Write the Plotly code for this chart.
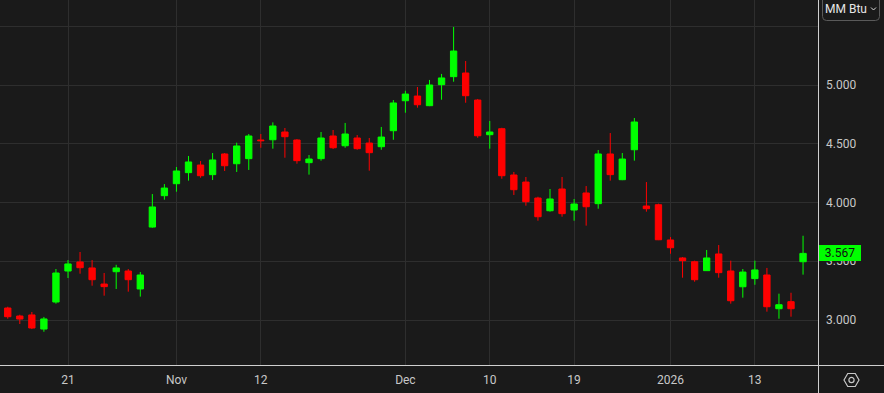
import plotly.graph_objects as go

# ---- data ----
dates = [
    "2025-10-14", "2025-10-15", "2025-10-16", "2025-10-17",
    "2025-10-20", "2025-10-21", "2025-10-22", "2025-10-23", "2025-10-24",
    "2025-10-27", "2025-10-28", "2025-10-29", "2025-10-30", "2025-10-31",
    "2025-11-03", "2025-11-04", "2025-11-05", "2025-11-06", "2025-11-07",
    "2025-11-10", "2025-11-11", "2025-11-12", "2025-11-13", "2025-11-14",
    "2025-11-17", "2025-11-18", "2025-11-19", "2025-11-20", "2025-11-21",
    "2025-11-24", "2025-11-25", "2025-11-26", "2025-11-28",
    "2025-12-01", "2025-12-02", "2025-12-03", "2025-12-04", "2025-12-05",
    "2025-12-08", "2025-12-09", "2025-12-10", "2025-12-11", "2025-12-12",
    "2025-12-15", "2025-12-16", "2025-12-17", "2025-12-18", "2025-12-19",
    "2025-12-22", "2025-12-23", "2025-12-24", "2025-12-26",
    "2025-12-29", "2025-12-30", "2025-12-31",
    "2026-01-02",
    "2026-01-05", "2026-01-06", "2026-01-07", "2026-01-08", "2026-01-09",
    "2026-01-12", "2026-01-13", "2026-01-14", "2026-01-15", "2026-01-16",
    "2026-01-20",
]

opens = [3.102, 3.034, 3.043, 2.923, 3.153, 3.417, 3.494, 3.443, 3.306, 3.411,
         3.417, 3.264, 3.791, 4.058, 4.160, 4.254, 4.319, 4.237, 4.413, 4.330,
         4.373, 4.532, 4.534, 4.600, 4.532, 4.339, 4.373, 4.566, 4.483, 4.549,
         4.506, 4.475, 4.611, 4.866, 4.906, 4.824, 5.003, 5.071, 5.102, 4.872,
         4.577, 4.628, 4.234, 4.174, 4.038, 3.930, 4.115, 3.936, 4.081, 3.990,
         4.413, 4.194, 4.449, 3.970, 3.981, 3.681, 3.528, 3.496, 3.420, 3.562,
         3.417, 3.283, 3.352, 3.383, 3.096, 3.156, 3.496]
highs = [3.113, 3.045, 3.068, 3.026, 3.434, 3.510, 3.579, 3.510, 3.400, 3.470,
         3.434, 3.408, 4.072, 4.157, 4.302, 4.396, 4.353, 4.421, 4.421, 4.509,
         4.583, 4.583, 4.682, 4.634, 4.540, 4.404, 4.600, 4.617, 4.677, 4.574,
         4.549, 4.643, 4.872, 4.951, 4.983, 5.043, 5.094, 5.494, 5.204, 4.881,
         4.694, 4.636, 4.260, 4.217, 4.049, 4.115, 4.217, 4.030, 4.140, 4.447,
         4.591, 4.421, 4.719, 4.174, 3.990, 3.706, 3.536, 3.505, 3.596, 3.638,
         3.505, 3.434, 3.505, 3.443, 3.224, 3.232, 3.717]
lows = [3.011, 2.966, 2.923, 2.900, 3.139, 3.357, 3.394, 3.292, 3.207, 3.264,
        3.241, 3.199, 3.785, 4.024, 4.092, 4.186, 4.211, 4.191, 4.268, 4.260,
        4.277, 4.466, 4.458, 4.381, 4.330, 4.237, 4.356, 4.455, 4.466, 4.449,
        4.271, 4.449, 4.534, 4.764, 4.807, 4.820, 4.875, 5.028, 4.849, 4.551,
        4.458, 4.202, 4.064, 3.973, 3.845, 3.922, 3.879, 3.845, 3.803, 3.947,
        4.186, 4.190, 4.356, 3.922, 3.680, 3.564, 3.360, 3.326, 3.418, 3.360,
        3.139, 3.190, 3.300, 3.071, 3.011, 3.028, 3.386]
closes = [3.028, 3.008, 2.932, 3.009, 3.400, 3.477, 3.445, 3.343, 3.284, 3.443,
          3.343, 3.383, 3.962, 4.123, 4.268, 4.345, 4.228, 4.362, 4.313, 4.481,
          4.566, 4.526, 4.651, 4.560, 4.356, 4.370, 4.549, 4.466, 4.583, 4.458,
          4.424, 4.557, 4.847, 4.923, 4.832, 5.000, 5.060, 5.289, 4.909, 4.568,
          4.600, 4.228, 4.109, 4.007, 3.879, 4.030, 3.905, 3.987, 3.964, 4.413,
          4.237, 4.370, 4.685, 3.947, 3.683, 3.615, 3.505, 3.343, 3.528, 3.403,
          3.164, 3.408, 3.426, 3.113, 3.130, 3.096, 3.567]

x_tick_dates = ["2025-10-21", "2025-11-03", "2025-11-12", "2025-12-01",
                "2025-12-10", "2025-12-19", "2026-01-02", "2026-01-13"]
x_tick_labels = ["21", "Nov", "12", "Dec", "10", "19", "2026", "13"]

y_tick_vals = [3.0, 3.5, 4.0, 4.5, 5.0, 5.5]
y_tick_labels = ["3.000", "3.500", "4.000", "4.500", "5.000", ""]

last_price = 3.567
unit_label = "MM Btu"

# ---- style ----
W, H = 884, 393
ML, MR, MT, MB = 0, 66, 0, 28
PW, PH = W - ML - MR, H - MT - MB
BG = "#1a1a1a"
GRID = "#2e2e2e"
AXIS = "#cfcfcf"
TXT = "#c8c8c8"
UP = "#00ff00"
DN = "#ff0000"
FONT = "Roboto"


def px(xp):
    return xp / PW


def py(yp):
    return (PH - yp) / PH


fig = go.Figure(go.Candlestick(
    x=dates, open=opens, high=highs, low=lows, close=closes,
    increasing=dict(line=dict(color=UP, width=1), fillcolor=UP),
    decreasing=dict(line=dict(color=DN, width=1), fillcolor=DN),
    whiskerwidth=0, showlegend=False, hoverinfo="x+y",
))

fig.update_layout(
    width=W, height=H,
    margin=dict(l=ML, r=MR, t=MT, b=MB, pad=0),
    paper_bgcolor=BG, plot_bgcolor=BG,
    boxgap=0.25,
    font=dict(family=FONT, size=12, color=TXT),
    xaxis=dict(
        type="category", range=[-0.643, 67.24],
        rangeslider=dict(visible=False),
        tickmode="array", tickvals=x_tick_dates, ticktext=x_tick_labels,
        showgrid=True, gridcolor=GRID, gridwidth=1,
        showline=False, zeroline=False, ticks="",
        ticklabelstandoff=6,
        tickfont=dict(family=FONT, size=12, color=TXT),
        fixedrange=True,
    ),
    yaxis=dict(
        side="right", range=[2.617, 5.7234],
        tickmode="array", tickvals=y_tick_vals, ticktext=y_tick_labels,
        showgrid=True, gridcolor=GRID, gridwidth=1,
        showline=False, zeroline=False, ticks="",
        ticklabelstandoff=7,
        tickfont=dict(family=FONT, size=12, color=TXT),
        fixedrange=True,
    ),
)

shapes = []
# axis separator lines
shapes.append(dict(type="line", xref="paper", yref="paper",
                   x0=px(818.5), x1=px(818.5), y0=py(-5), y1=py(H + 5),
                   line=dict(color=AXIS, width=1)))
shapes.append(dict(type="line", xref="paper", yref="paper",
                   x0=px(-5), x1=px(W + 5), y0=py(365.5), y1=py(365.5),
                   line=dict(color=AXIS, width=1)))

# unit button (rounded rectangle)
bx0, bx1, by0, by1, r = 822.5, 879.5, -6, 20.5, 4
path = (f"M {px(bx0)},{py(by0)} L {px(bx0)},{py(by1 - r)} "
        f"Q {px(bx0)},{py(by1)} {px(bx0 + r)},{py(by1)} "
        f"L {px(bx1 - r)},{py(by1)} "
        f"Q {px(bx1)},{py(by1)} {px(bx1)},{py(by1 - r)} "
        f"L {px(bx1)},{py(by0)}")
shapes.append(dict(type="path", xref="paper", yref="paper", path=path,
                   line=dict(color="#5a5a5a", width=1)))
# chevron
shapes.append(dict(type="path", xref="paper", yref="paper",
                   path=f"M {px(871)},{py(7.5)} L {px(873.5)},{py(10)} L {px(876)},{py(7.5)}",
                   line=dict(color="#dcdcdc", width=1)))

# settings (hexagon) icon
cx, cy, hr = 851.5, 380, 7.5
hv = hr * 0.866
hexpath = (f"M {px(cx - hr)},{py(cy)} L {px(cx - hr / 2)},{py(cy - hv)} "
           f"L {px(cx + hr / 2)},{py(cy - hv)} L {px(cx + hr)},{py(cy)} "
           f"L {px(cx + hr / 2)},{py(cy + hv)} L {px(cx - hr / 2)},{py(cy + hv)} Z")
shapes.append(dict(type="path", xref="paper", yref="paper", path=hexpath,
                   line=dict(color=TXT, width=1.2)))
shapes.append(dict(type="circle", xref="paper", yref="paper",
                   x0=px(cx - 2.6), x1=px(cx + 2.6), y0=py(cy + 2.6), y1=py(cy - 2.6),
                   line=dict(color=TXT, width=1.2)))

fig.update_layout(shapes=shapes)

fig.add_annotation(
    xref="paper", yref="y", x=px(819), y=last_price,
    xanchor="left", yanchor="middle", showarrow=False,
    text=f"{last_price:.3f}", font=dict(family=FONT, size=12, color="#111111"),
    bgcolor=UP, width=40, height=14, borderpad=1, borderwidth=0, align="center",
)
fig.add_annotation(
    xref="paper", yref="paper", x=px(846), y=py(9.5),
    xanchor="center", yanchor="middle", showarrow=False,
    text=unit_label, font=dict(family=FONT, size=12, color="#e6e6e6"),
)

fig.write_html(
    "out.html",
    config={"displayModeBar": False},
    post_script="document.body.style.margin='0';document.body.style.padding='0';"
                "document.body.style.background='" + BG + "';",
)
